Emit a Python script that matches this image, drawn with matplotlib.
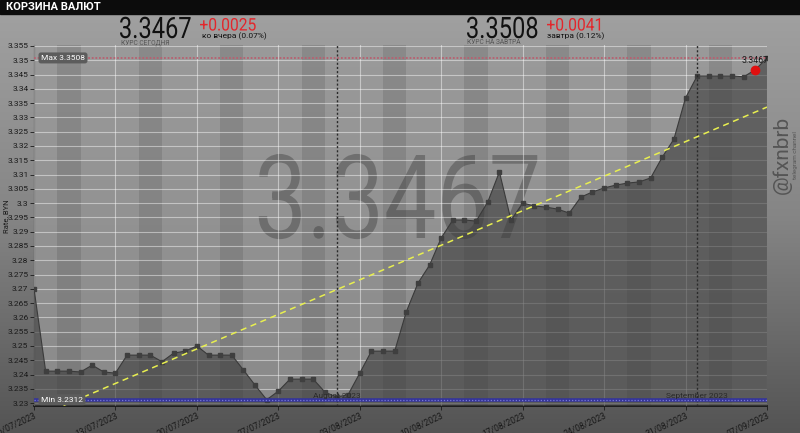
"""Currency basket chart (NBRB) - recreated with matplotlib."""

import matplotlib
matplotlib.use("Agg")
import matplotlib.pyplot as plt
import matplotlib.dates as mdates
import numpy as np
import pandas as pd
from matplotlib.font_manager import FontProperties
from matplotlib.patches import PathPatch
from matplotlib.text import TextPath
from matplotlib.transforms import Affine2D
from matplotlib.ticker import MultipleLocator, FuncFormatter

# --- data -----------------------------------------------------------------
dates = pd.date_range("2023-07-06", "2023-09-07", freq="D")
rates = [
    3.2700, 3.2412, 3.2412, 3.2412, 3.2409, 3.2433, 3.2409, 3.2405, 3.2468, 3.2468,
    3.2468, 3.2445, 3.2475, 3.2482, 3.2500, 3.2468, 3.2468, 3.2468, 3.2416, 3.2363,
    3.2312, 3.2342, 3.2384, 3.2384, 3.2384, 3.2339, 3.2321, 3.2330, 3.2405, 3.2482,
    3.2482, 3.2482, 3.2620, 3.2720, 3.2783, 3.2878, 3.2941, 3.2941, 3.2937, 3.3004,
    3.3109, 3.2940, 3.3000, 3.2990, 3.2986, 3.2979, 3.2965, 3.3021, 3.3039, 3.3053,
    3.3063, 3.3070, 3.3074, 3.3088, 3.3161, 3.3224, 3.3368, 3.3445, 3.3445, 3.3445,
    3.3445, 3.3442, 3.3467, 3.3508,
]
trend_dates = ["2023-07-06", "2023-09-07"]
trend_values = [3.2248, 3.3336]
month_marks = ["2023-08-01", "2023-09-01"]
month_labels = ["August 2023", "September 2023"]

rate_today = 3.3467
rate_today_date = "2023-09-06"
change_today = "+0.0025"
change_today_note = "ко вчера (0.07%)"
rate_tomorrow = 3.3508
change_tomorrow = "+0.0041"
change_tomorrow_note = "завтра (0.12%)"
rate_max = 3.3508
rate_min = 3.2312

W, H = 800, 433
fig = plt.figure(figsize=(W / 100, H / 100), dpi=100)
plt.rcParams["font.family"] = ["Roboto", "DejaVu Sans"]
DIGITS = FontProperties(family="Roboto", weight="normal")


def narrow_text(target, x_px, y_px, s, size, color, sx=0.8, ha="left", alpha=1.0, zorder=10):
    """Draw condensed text (x squeezed) with its baseline at pixel (x_px, y_px from top)."""
    tp = TextPath((0, 0), s, size=size, prop=DIGITS)
    bb = tp.get_extents()
    k = fig.dpi / 72
    w = bb.width * k * sx
    x0 = x_px - bb.x0 * k * sx
    if ha == "center":
        x0 -= w / 2
    tr = Affine2D().scale(k * sx, k).translate(x0, H - y_px)
    patch = PathPatch(tp, fc=color, ec="none", alpha=alpha, zorder=zorder)
    patch.set_transform(tr)
    target.add_artist(patch)
    return patch


# background gradient for the whole card
bg = fig.add_axes([0, 0, 1, 1], zorder=-10)
grad = np.linspace(0, 1, 256).reshape(-1, 1)
bg.imshow(grad, aspect="auto", cmap=matplotlib.colors.LinearSegmentedColormap.from_list(
    "bg", ["#a2a2a2", "#858585", "#545454"]), extent=[0, 1, 0, 1], origin="upper")
bg.axis("off")

# black title bar
fig.add_artist(plt.Rectangle((0, 1 - 14 / H), 1, 14 / H, transform=fig.transFigure,
                             color="#0c0c0c", zorder=5))
fig.text(0.007, 1 - 7 / H, "КОРЗИНА ВАЛЮТ", color="white", fontsize=8, fontweight="bold",
         va="center", ha="left", zorder=6)

ax = fig.add_axes([34 / W, 27 / H, 733 / W, 361.5 / H])
x = mdates.date2num(dates)
ax.set_xlim(x[0], x[-1])
ax.set_ylim(3.229, 3.3555)
ax.set_facecolor("none")

# plot area background
ax.imshow(grad, aspect="auto", cmap=matplotlib.colors.LinearSegmentedColormap.from_list(
    "pl", ["#9a9a9a", "#8a8a8a"]), extent=[0, 1, 0, 1], origin="upper",
    transform=ax.transAxes, zorder=0)

# weekend bands
for d in dates:
    if d.weekday() == 5:
        s = mdates.date2num(d)
        ax.axvspan(s, min(s + 2, x[-1]), color="black", alpha=0.1, lw=0, zorder=1)

# grid and ticks
ax.yaxis.set_major_locator(MultipleLocator(0.005))
ax.yaxis.set_major_formatter(FuncFormatter(lambda v, p: f"{v:.3f}".rstrip("0").rstrip(".")))
ax.set_xticks(x[::7])
ax.set_xticklabels([d.strftime("%d/%m/%Y") for d in dates[::7]], rotation=25, ha="right",
                   rotation_mode="anchor", fontsize=6.2, color="#1a1a1a")
ax.grid(True, color="white", alpha=0.45, lw=0.8, zorder=2)
ax.set_axisbelow(False)

# watermark of today's rate
narrow_text(ax, 398, 238, f"{rate_today:.4f}", 84, "#333333", sx=0.8, ha="center",
            alpha=0.38, zorder=2)

# area + line + markers
ax.fill_between(x, rates, 3.0, color="#3c3c3c", alpha=0.6, lw=0, zorder=3)
ax.plot(x, rates, color="#3a3a3a", lw=0.8, zorder=4)
ax.plot(x, rates, ls="none", marker="s", ms=2.2, color="#3f3f3f", zorder=4)

# month separators
for m, lab in zip(month_marks, month_labels):
    mx = mdates.date2num(pd.Timestamp(m))
    ax.axvline(mx, color="#2a2a2a", ls=(0, (1.5, 1.5)), lw=1.0, zorder=5)
    ax.text(mx, 3.2325, lab, fontsize=6, color="#2a2a2a", ha="center", va="center", zorder=6)

# max / min lines
ax.axhline(rate_max, color="#b86070", ls=(0, (1, 1)), lw=1.3, zorder=5)
ax.axhline(rate_min, color="#34349a", lw=2.6, zorder=5)
ax.axhline(rate_min, color="#7a7ad8", ls=(0, (1, 1.5)), lw=0.9, zorder=5)
box = dict(boxstyle="round,pad=0.3", fc="#5c5c5c", ec="none")
ax.text(x[0] + 0.6, rate_max, f"Max {rate_max:.4f}", fontsize=6, color="white",
        ha="left", va="center", bbox=box, zorder=7)
ax.text(x[0] + 0.6, rate_min, f"Min {rate_min:.4f}", fontsize=6, color="white",
        ha="left", va="center", bbox=box, zorder=7)

# trend line
ax.plot(mdates.date2num(pd.to_datetime(trend_dates)), trend_values, color="#e8ef50",
        ls=(0, (4, 3)), lw=1.1, zorder=6)

# today's point
tx = mdates.date2num(pd.Timestamp(rate_today_date))
ax.plot(tx, rate_today, "o", color="#e01010", ms=6, zorder=8)
ax.text(tx, rate_today + 0.0032, f"{rate_today:.4f}", fontsize=6.3, color="#1a1a1a",
        ha="center", va="center", zorder=8)

# axes styling
for side in ("top", "right"):
    ax.spines[side].set_visible(False)
ax.spines["left"].set_color("#2a2a2a")
ax.spines["bottom"].set_color("#111111")
ax.spines["bottom"].set_linewidth(1.2)
ax.tick_params(axis="y", labelsize=6, colors="#1a1a1a", length=3, width=0.6, pad=1)
ax.tick_params(axis="x", length=3, width=0.6, colors="#1a1a1a", pad=1)
fig.text(0.008, 0.5, "Rate, BYN", rotation=90, fontsize=5.5, color="#1a1a1a",
         ha="center", va="center")

# header numbers
narrow_text(fig, 120, 38, f"{rate_today:.4f}", 21.3, "#111111", sx=0.8)
narrow_text(fig, 200, 30.5, change_today, 12.5, "#e3262b", sx=0.9)
fig.text(202 / W, 1 - 36 / H, change_today_note, fontsize=6, color="#111111",
         ha="left", va="center")
fig.text(121 / W, 1 - 42.5 / H, "КУРС СЕГОДНЯ", fontsize=4.8, color="#555555",
         ha="left", va="center")

narrow_text(fig, 467, 38, f"{rate_tomorrow:.4f}", 21.3, "#111111", sx=0.8)
narrow_text(fig, 547, 30.5, change_tomorrow, 12.5, "#e3262b", sx=0.9)
fig.text(547 / W, 1 - 36 / H, change_tomorrow_note, fontsize=6, color="#111111",
         ha="left", va="center")
fig.text(467 / W, 1 - 42.5 / H, "КУРС НА ЗАВТРА", fontsize=4.8, color="#555555",
         ha="left", va="center")

# channel watermark
fig.text(782 / W, 1 - 155 / H, "@fxnbrb", rotation=90, fontsize=15, color="#555555",
         ha="center", va="center")
fig.text(796 / W, 1 - 155 / H, "telegram channel", rotation=90, fontsize=4.5,
         color="#555555", ha="center", va="center")

fig.savefig("out.png", dpi=100)
